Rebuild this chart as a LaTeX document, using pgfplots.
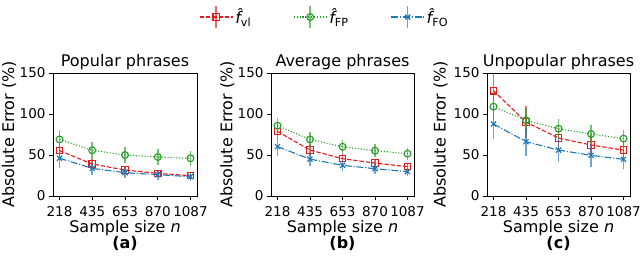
\documentclass[border=0pt]{standalone}
\usepackage{fontspec}
\setmainfont{DejaVu Sans}
\usepackage{pgfplots}
\usepackage{pgfplotstable}
\pgfplotsset{compat=1.18}
\definecolor{cR}{RGB}{228,26,28}
\definecolor{cG}{RGB}{44,160,44}
\definecolor{cB}{RGB}{31,119,180}

\pgfplotstableread{
x y e
218 55.3 8
435 39.0 6
653 31.7 5
870 27.6 4
1087 24.8 3.5
}\aR
\pgfplotstableread{
x y e
218 69.0 12
435 55.7 10.5
653 50.0 9.7
870 47.6 9.5
1087 46.0 9.3
}\aG
\pgfplotstableread{
x y e
218 46.0 12
435 33.7 8
653 28.5 7
870 26.0 6
1087 23.6 5
}\aB
\pgfplotstableread{
x y e
218 78.8 9
435 56.0 7
653 45.5 6
870 40.2 5
1087 35.8 4.5
}\bR
\pgfplotstableread{
x y e
218 85.8 9.5
435 69.0 9.5
653 60.0 8.5
870 55.3 8
1087 51.6 7.5
}\bG
\pgfplotstableread{
x y e
218 60.2 11
435 45.0 8
653 37.4 7
870 33.3 6
1087 29.7 5
}\bB
\pgfplotstableread{
x y e
218 128.4 25
435 90.2 19
653 70.7 14
870 62.2 12
1087 56.0 10
}\cR
\pgfplotstableread{
x y e
218 109.0 15
435 92.3 15
653 82.0 12.5
870 75.6 11.5
1087 70.0 11
}\cG
\pgfplotstableread{
x y e
218 87.8 18
435 66.3 17
653 56.0 15
870 49.6 14
1087 44.7 12
}\cB

\newcommand{\fhat}[1]{{\itshape\^{f}}\textsubscript{#1}}

\pgfplotsset{
  panel/.style={
    width=144pt, height=123pt, scale only axis,
    clip mode=individual,
    xmin=174.55, xmax=1130.45, ymin=0, ymax=150,
    xtick={218,435,653,870,1087}, ytick={0,50,100,150},
    xtick pos=lower, ytick pos=left,
    tick align=outside, major tick length=4pt,
    tick style={black, line width=0.8pt},
    axis line style={line width=0.8pt},
    /pgf/number format/assume math mode=true,
    /pgf/number format/1000 sep={},
    scaled ticks=false,
    tick label style={font=\fontsize{13.5}{16}\selectfont},
    xticklabel style={yshift=-3pt},
    label style={font=\fontsize{16}{18}\selectfont},
    title style={font=\fontsize{16}{18}\selectfont, at={(axis description cs:0.5,1)}, anchor=base, yshift=1pt},
    ylabel={Absolute Error (\%)},
    ylabel style={at={(axis description cs:-0.305,0.5)}, anchor=center},
    xlabel={Sample size \textit{n}},
    xlabel style={at={(axis description cs:0.5,0)}, anchor=base, yshift=-36pt},
    error bars/y dir=both, error bars/y explicit, error bars/error mark=none,
    error bars/error bar style={line width=1.6pt, opacity=0.65, solid},
    legend image code/.code={
      \draw[mark repeat=2,mark phase=2,##1] plot coordinates {(0pt,0pt) (16.5pt,0pt) (33pt,0pt)};
      \draw[##1, mark=none, solid, line width=1.6pt, opacity=0.65] (16.5pt,-11pt) -- (16.5pt,11pt);
    },
  },
  sR/.style={cR, line width=1.1pt, dash pattern=on 4.4pt off 1.9pt, mark=square, mark size=3.2pt, mark options={solid, line width=1.2pt, fill=none}},
  sG/.style={cG, line width=1.1pt, dash pattern=on 1.1pt off 1.8pt, mark=o, mark size=3.4pt, mark options={solid, line width=1.2pt, fill=none}},
  sB/.style={cB, line width=1.1pt, dash pattern=on 7pt off 1.8pt on 1.1pt off 1.8pt, mark=x, mark size=3.6pt, mark options={solid, line width=1.2pt}},
}

\begin{document}
\begin{tikzpicture}
\path[use as bounding box] (0pt,0pt) rectangle (640pt,255pt);

\begin{axis}[panel, at={(53pt,59pt)}, anchor=south west, title={Popular phrases}]
\addplot[sR] table[x=x, y=y, y error=e] {\aR};
\addplot[sG] table[x=x, y=y, y error=e] {\aG};
\addplot[sB] table[x=x, y=y, y error=e] {\aB};
\node[font=\bfseries\fontsize{16}{18}\selectfont, anchor=base] at (axis description cs:0.5,-0.43) {(a)};
\end{axis}

\begin{axis}[panel, width=143pt, at={(271pt,59pt)}, anchor=south west, title={Average phrases},
  legend columns=3,
  legend style={draw=none, fill=none, at={(axis description cs:0.375,1.455)}, anchor=center,
    font=\fontsize{16}{18}\selectfont,
    /tikz/every even column/.append style={column sep=40pt}}]
\addplot[sR] table[x=x, y=y, y error=e] {\bR};
\addlegendentry{\fhat{vl}}
\addplot[sG] table[x=x, y=y, y error=e] {\bG};
\addlegendentry{\fhat{FP}}
\addplot[sB] table[x=x, y=y, y error=e] {\bB};
\addlegendentry{\fhat{FO}}
\node[font=\bfseries\fontsize{16}{18}\selectfont, anchor=base] at (axis description cs:0.5,-0.43) {(b)};
\end{axis}

\begin{axis}[panel, width=143pt, at={(487pt,59pt)}, anchor=south west, title={Unpopular phrases},
  ylabel style={at={(axis description cs:-0.325,0.5)}, anchor=center}]
\addplot[sR] table[x=x, y=y, y error=e] {\cR};
\addplot[sG] table[x=x, y=y, y error=e] {\cG};
\addplot[sB] table[x=x, y=y, y error=e] {\cB};
\node[font=\bfseries\fontsize{16}{18}\selectfont, anchor=base] at (axis description cs:0.5,-0.43) {(c)};
\end{axis}
\end{tikzpicture}
\end{document}
